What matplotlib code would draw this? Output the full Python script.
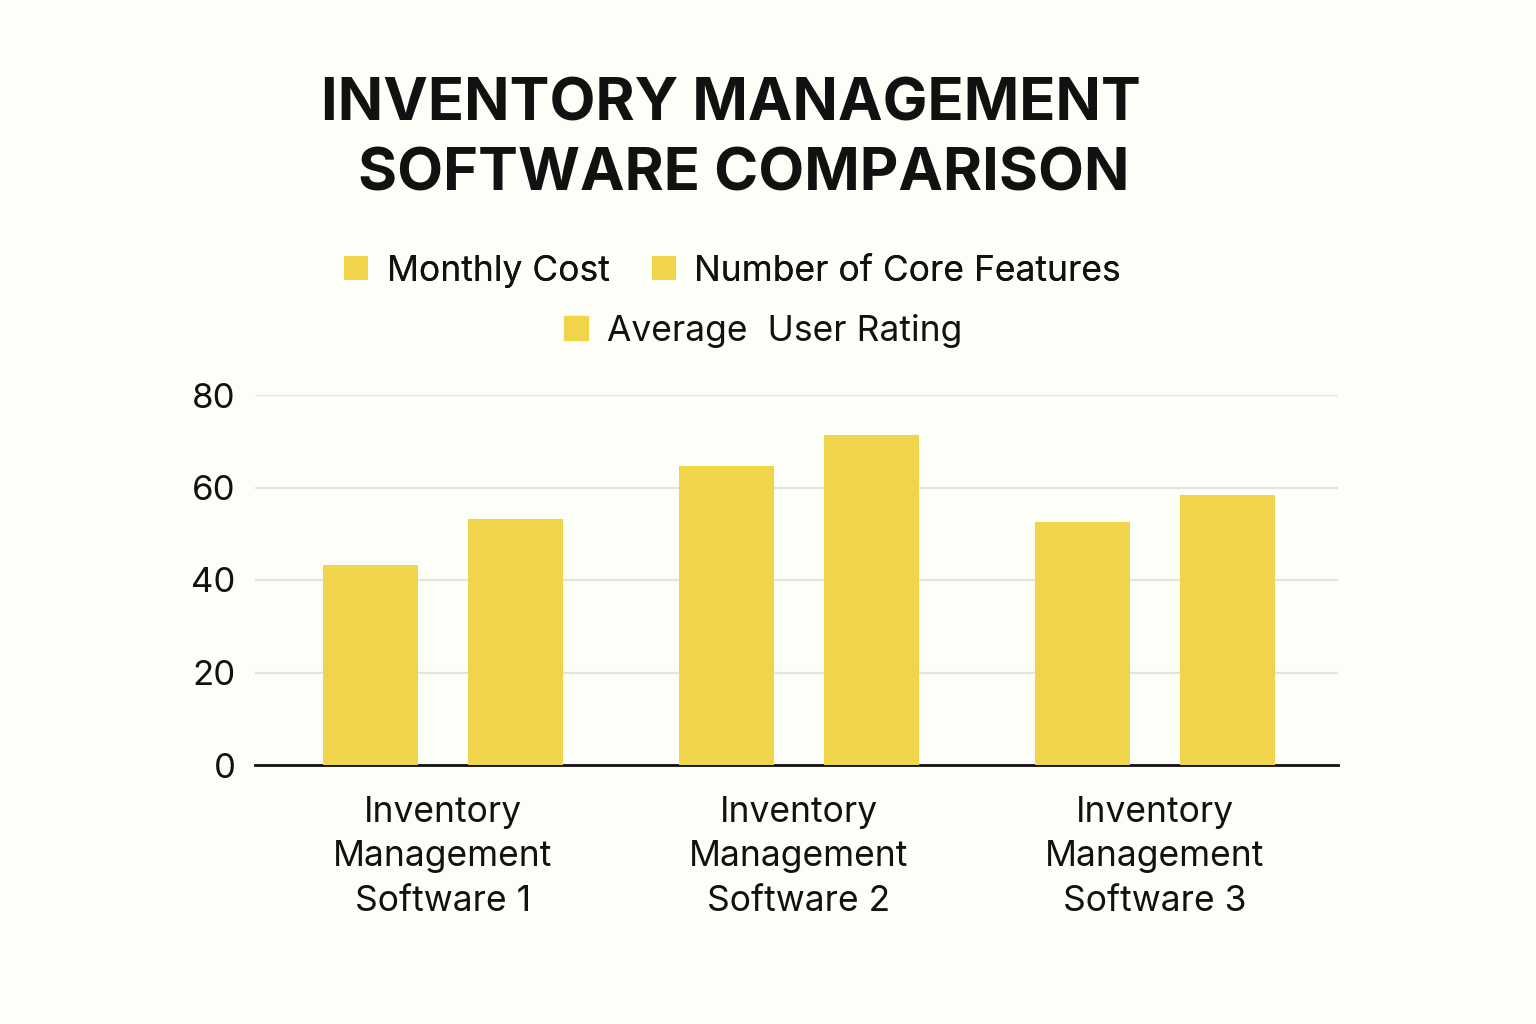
import numpy as np
import matplotlib.pyplot as plt
from matplotlib.patches import Patch

plt.rcParams['font.family'] = ['Inter', 'DejaVu Sans']

# data
categories = ['Inventory\nManagement\nSoftware 1',
              'Inventory\nManagement\nSoftware 2',
              'Inventory\nManagement\nSoftware 3']
monthly_cost = [43.2, 64.6, 52.5]
core_features = [53.2, 71.4, 58.4]
series_names = ['Monthly Cost', 'Number of Core Features', 'Average  User Rating']
yticks = [0, 20, 40, 60, 80]
title_lines = ['INVENTORY MANAGEMENT', 'SOFTWARE COMPARISON']

bar_color = '#F0D44A'
bg = '#FEFEF9'

fig = plt.figure(figsize=(15.36, 10.24), dpi=100, facecolor=bg)
ax = fig.add_axes([255/1536, 1-765/1024, (1338-255)/1536, (765-395)/1024])
ax.set_facecolor(bg)

x = np.arange(len(categories))
w = 0.267
off = 0.204
b1 = ax.bar(x - off, monthly_cost, w, color=bar_color, zorder=3)
b2 = ax.bar(x + off, core_features, w, color=bar_color, zorder=3)

ax.set_xlim(-0.528, 2.514)
ax.set_ylim(0, 80)
ax.set_yticks(yticks)
ax.yaxis.grid(True, color='#E3E3E0', linewidth=1.5, zorder=0)
for s in ['top', 'right', 'left']:
    ax.spines[s].set_visible(False)
ax.spines['bottom'].set_linewidth(2)
ax.spines['bottom'].set_color('#111111')
ax.tick_params(axis='y', length=0, labelsize=25, pad=14, labelcolor='#111111')
ax.tick_params(axis='x', length=0, labelsize=25.5, pad=22, labelcolor='#111111')
ax.set_xticks(x)
ax.set_xticklabels(categories, linespacing=1.45)

# title, two lines (second one sits a little to the right in the original)
fig.text(0.476, 0.897, title_lines[0], ha='center', va='center',
         fontsize=43, fontweight='bold', color='#111111')
fig.text(0.484, 0.829, title_lines[1], ha='center', va='center',
         fontsize=43, fontweight='bold', color='#111111')

h3 = Patch(color=bar_color)
leg1 = fig.legend([b1, b2], series_names[:2], loc='center', bbox_to_anchor=(0.477, 0.735),
                  ncol=2, frameon=False, fontsize=25.5, handlelength=0.67, handleheight=0.67,
                  handletextpad=0.53, columnspacing=1.2, labelcolor='#111111')
fig.add_artist(leg1)
fig.legend([h3], series_names[2:], loc='center', bbox_to_anchor=(0.497, 0.677),
           frameon=False, fontsize=25.5, handlelength=0.67, handleheight=0.67,
           handletextpad=0.53, labelcolor='#111111')

fig.savefig('out.png', dpi=100, facecolor=bg)
